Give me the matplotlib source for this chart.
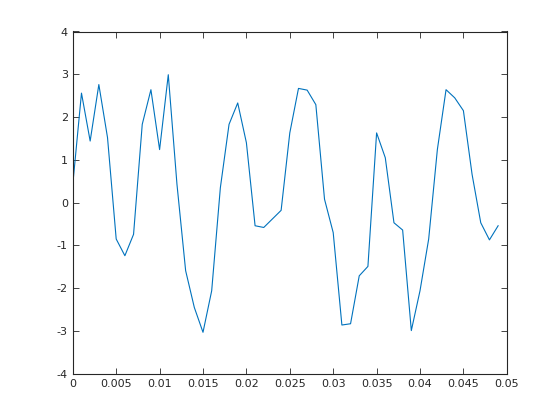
import numpy as np
import matplotlib
matplotlib.use('Agg')
import matplotlib.pyplot as plt

# sample times (s) and signal values
t = np.arange(50) * 0.001
y = [0.43, 2.56, 1.44, 2.76, 1.52, -0.85, -1.24, -0.74, 1.83, 2.64,
     1.24, 2.99, 0.43, -1.59, -2.45, -3.03, -2.06, 0.35, 1.83, 2.33,
     1.40, -0.54, -0.58, -0.38, -0.18, 1.63, 2.67, 2.63, 2.29, 0.08,
     -0.70, -2.86, -2.83, -1.71, -1.49, 1.63, 1.05, -0.47, -0.64, -2.99,
     -2.06, -0.85, 1.24, 2.64, 2.45, 2.15, 0.66, -0.47, -0.87, -0.54]

xticks = [0, 0.005, 0.01, 0.015, 0.02, 0.025, 0.03, 0.035, 0.04, 0.045, 0.05]
xlabels = ['0', '0.005', '0.01', '0.015', '0.02', '0.025', '0.03', '0.035', '0.04', '0.045', '0.05']
yticks = [-4, -3, -2, -1, 0, 1, 2, 3, 4]
ylabels = ['-4', '-3', '-2', '-1', '0', '1', '2', '3', '4']

plt.rcParams['font.family'] = ['DejaVu Sans']
fig = plt.figure(figsize=(5.6, 4.2), dpi=100)
ax = fig.add_axes([0.13, 0.11, 0.775, 0.815])
ax.plot(t, y, color=(0, 0.447, 0.741), linewidth=0.8)
ax.set_xlim(0, 0.05)
ax.set_ylim(-4, 4)
ax.set_xticks(xticks)
ax.set_xticklabels(xlabels)
ax.set_yticks(yticks)
ax.set_yticklabels(ylabels)
ax.tick_params(direction='in', length=4, width=0.6, labelsize=8, colors='#262626',
               top=True, right=True)
for s in ax.spines.values():
    s.set_linewidth(0.8)
    s.set_color('#262626')
fig.savefig('out.png', dpi=100)
